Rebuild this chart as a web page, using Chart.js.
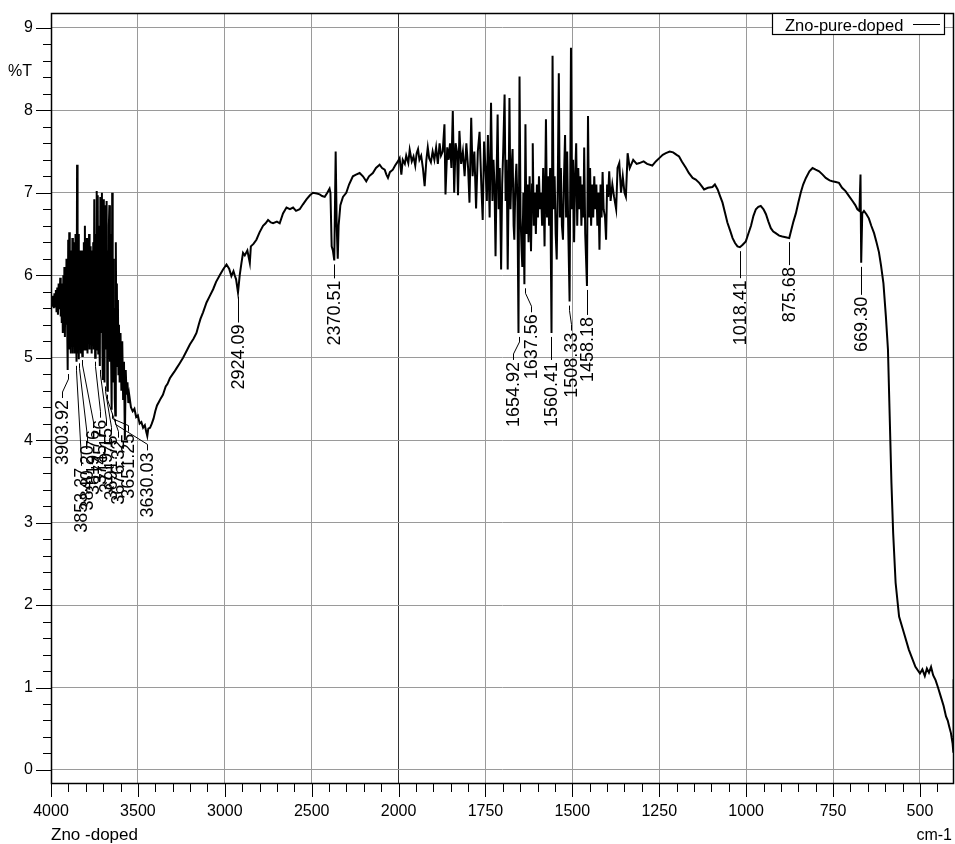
<!DOCTYPE html>
<html>
<head>
<meta charset="utf-8">
<script src="https://cdn.jsdelivr.net/npm/chart.js@4.4.1/dist/chart.umd.min.js"></script>
<style>
    html, body { margin: 0; padding: 0; background: #fff; }
</style>
</head>
<body>
<canvas id="myChart" width="955" height="844"></canvas>
<script>
// spectrum (cm-1, %T)
const wavenumbers = [
    4000, 3996, 3992, 3988, 3984, 3980, 3976, 3972, 3968, 3964,
    3960, 3956, 3953, 3950, 3947, 3944, 3941, 3938, 3935, 3932,
    3929, 3926, 3923, 3920, 3917, 3914, 3911, 3908, 3904, 3901,
    3898, 3895, 3892, 3889, 3886, 3883, 3880, 3877, 3874, 3871,
    3868, 3865, 3862, 3859, 3856, 3853, 3850, 3847, 3843, 3840,
    3837, 3834, 3831, 3828, 3825, 3822, 3820, 3817, 3814, 3811,
    3808, 3805, 3802, 3799, 3796, 3793, 3790, 3787, 3784, 3781,
    3778, 3775, 3772, 3769, 3766, 3763, 3760, 3757, 3754, 3751,
    3746, 3743, 3740, 3737, 3734, 3731, 3728, 3725, 3722, 3719,
    3716, 3713, 3710, 3707, 3704, 3702, 3699, 3696, 3692, 3689,
    3686, 3683, 3680, 3676, 3673, 3670, 3667, 3664, 3661, 3658,
    3655, 3651, 3648, 3645, 3642, 3639, 3636, 3633, 3630, 3627,
    3624, 3621, 3618, 3615, 3612, 3609, 3605, 3600, 3595, 3590,
    3585, 3580, 3575, 3570, 3565, 3560, 3555, 3550, 3540, 3530,
    3520, 3510, 3500, 3490, 3480, 3470, 3460, 3452, 3446, 3440,
    3430, 3420, 3410, 3400, 3390, 3380, 3370, 3356, 3340, 3330,
    3316, 3300, 3290, 3278, 3260, 3240, 3220, 3201, 3180, 3163,
    3150, 3140, 3125, 3105, 3086, 3067, 3050, 3029, 3010, 2990,
    2975, 2962, 2950, 2943, 2935, 2924, 2914, 2904, 2895, 2885,
    2870, 2856, 2850, 2835, 2818, 2800, 2780, 2765, 2751, 2735,
    2722, 2700, 2684, 2665, 2645, 2625, 2607, 2590, 2569, 2550,
    2530, 2510, 2493, 2470, 2454, 2440, 2425, 2410, 2397, 2392,
    2385, 2378, 2370, 2362, 2356, 2350, 2345, 2335, 2320, 2301,
    2285, 2263, 2245, 2224, 2205, 2186, 2170, 2148, 2130, 2109,
    2095, 2080, 2070, 2061, 2050, 2033, 2020, 2004, 1997, 1992,
    1988, 1982, 1978, 1972, 1968, 1962, 1957, 1952, 1948, 1944,
    1940, 1935, 1930, 1925, 1920, 1916, 1912, 1907, 1902, 1897,
    1892, 1887, 1882, 1878, 1873, 1868, 1865, 1860, 1856, 1852,
    1848, 1844, 1840, 1836, 1832, 1829, 1825, 1820, 1815, 1810,
    1805, 1800, 1796, 1791, 1787, 1782, 1777, 1772, 1767, 1762,
    1758, 1754, 1750, 1746, 1743, 1738, 1734,
    1730, 1727, 1724, 1721, 1718, 1715, 1712, 1709, 1705, 1702,
    1699, 1695, 1692, 1689, 1686, 1683, 1681, 1678, 1675, 1672,
    1669, 1667, 1664, 1661, 1658, 1655, 1652, 1649, 1646, 1644,
    1641, 1638, 1635, 1632, 1629, 1626, 1623, 1619, 1616, 1614,
    1611, 1608, 1605, 1602, 1599, 1596, 1593, 1590, 1587, 1584,
    1580, 1576, 1573, 1570, 1567, 1564, 1560, 1557, 1554, 1551,
    1548, 1545, 1542, 1539, 1536, 1533, 1530, 1527, 1524, 1521,
    1518, 1515, 1512, 1508, 1504, 1501, 1498, 1495, 1492, 1489,
    1486, 1483, 1480, 1477, 1474, 1471, 1468, 1466, 1463, 1458,
    1455, 1452, 1449, 1446, 1443, 1440, 1437, 1434, 1431, 1428,
    1425, 1422, 1419, 1416, 1413, 1410, 1406, 1403, 1400, 1397,
    1394, 1390, 1385, 1380, 1374, 1370, 1365, 1360, 1355, 1350,
    1346, 1341, 1335, 1325, 1315, 1307, 1295, 1285, 1270, 1260,
    1250, 1240, 1231, 1220, 1210, 1200, 1193, 1185, 1173, 1165,
    1154, 1145, 1135, 1128, 1121, 1110, 1097, 1090, 1082, 1075,
    1068, 1061, 1054, 1046, 1039, 1032, 1025, 1018, 1010, 1001,
    994, 986, 979, 972, 965, 958, 950, 943, 936, 929,
    922, 915, 905, 896, 886, 876, 870, 864, 857, 850,
    843, 836, 828, 818, 809, 800, 790, 780, 771, 760,
    752, 742, 733, 724, 714, 704, 694, 686, 680, 674,
    671, 669, 666, 661, 654, 647, 640, 632, 625, 618,
    612, 605, 598, 592, 587, 582, 577, 570, 560, 546,
    532, 513, 500, 493, 486, 480, 474, 468, 462, 455,
    448, 440, 432, 425, 420, 416, 411, 406, 404, 403, 402
];

const transmittance = [
    5.66, 5.72, 5.62, 5.75, 5.60, 5.78, 5.62, 5.82, 5.55, 5.85,
    5.52, 5.90, 5.60, 5.70, 5.97, 5.50, 5.85, 5.42, 5.90, 5.30,
    6.00, 5.33, 6.10, 5.25, 6.05, 5.40, 6.20, 5.60, 4.85, 6.43,
    5.20, 6.52, 5.10, 6.30, 5.05, 6.25, 5.20, 6.45, 5.05, 6.30,
    5.15, 6.40, 5.05, 6.50, 5.30, 4.95, 7.34, 5.05, 6.50, 4.98,
    6.30, 5.10, 6.20, 5.05, 6.30, 5.15, 5.02, 6.25, 5.10, 6.40,
    5.20, 6.60, 5.10, 6.20, 5.30, 6.45, 5.05, 6.35, 5.20, 6.50,
    5.10, 6.35, 5.25, 6.15, 5.05, 6.30, 5.15, 6.40, 5.10, 6.92,
    5.00, 6.50, 5.20, 7.02, 5.10, 6.97, 5.05, 6.60, 5.20, 4.90,
    6.95, 5.30, 6.50, 7.00, 5.10, 4.73, 6.92, 5.20, 4.70, 6.85,
    5.10, 6.40, 6.90, 4.60, 6.30, 5.00, 6.60, 6.85, 4.95, 6.50,
    5.20, 4.37, 7.00, 5.10, 6.20, 4.70, 5.60, 4.50, 4.30, 6.40,
    5.20, 5.90, 4.90, 5.70, 4.80, 5.40, 4.70, 5.30, 4.60, 5.20,
    4.50, 4.95, 4.00, 4.85, 4.55, 4.70, 4.45, 4.55, 4.40, 4.35,
    4.38, 4.28, 4.30, 4.20, 4.22, 4.15, 4.18, 4.10, 4.05, 4.14,
    4.15, 4.20, 4.26, 4.35, 4.42, 4.46, 4.50, 4.55, 4.65, 4.68,
    4.75, 4.80, 4.83, 4.87, 4.93, 5.00, 5.08, 5.16, 5.23, 5.30,
    5.40, 5.47, 5.55, 5.67, 5.75, 5.83, 5.92, 6.00, 6.07, 6.13,
    6.08, 5.99, 6.05, 6.00, 5.95, 5.79, 6.00, 6.15, 6.27, 6.24,
    6.30, 6.15, 6.35, 6.38, 6.43, 6.52, 6.60, 6.63, 6.67, 6.64,
    6.63, 6.65, 6.63, 6.75, 6.82, 6.80, 6.82, 6.78, 6.80, 6.86,
    6.92, 6.97, 7.00, 6.99, 6.98, 6.96, 6.95, 7.00, 7.05, 7.00,
    6.35, 6.30, 6.18, 7.50, 6.60, 6.20, 6.60, 6.85, 6.95, 7.00,
    7.10, 7.20, 7.22, 7.24, 7.20, 7.14, 7.20, 7.24, 7.30, 7.34,
    7.30, 7.28, 7.22, 7.18, 7.25, 7.28, 7.33, 7.38, 7.42, 7.22,
    7.40, 7.35, 7.45, 7.36, 7.52, 7.38, 7.44, 7.33, 7.48, 7.53,
    7.40, 7.45, 7.30, 7.08, 7.40, 7.55, 7.42, 7.37, 7.50, 7.40,
    7.55, 7.35, 7.60, 7.45, 7.50, 7.83, 6.98, 7.55, 7.40, 7.60,
    7.30, 7.99, 7.00, 7.60, 7.50, 6.97, 7.75, 7.35, 7.50, 7.20,
    7.60, 7.30, 6.88, 7.91, 7.20, 7.50, 6.81, 7.50, 7.74, 7.10,
    6.67, 7.62, 7.30, 6.90, 7.70, 6.70, 8.09,
    6.90, 7.40, 7.10, 6.23, 7.20, 7.95, 6.80, 7.30, 6.07, 7.10,
    7.50, 8.19, 6.90, 7.40, 6.07, 7.20, 8.15, 6.80, 7.30, 7.53,
    6.60, 6.43, 7.10, 7.35, 6.90, 5.30, 8.41, 6.70, 6.30, 6.10,
    7.00, 5.89, 7.83, 6.50, 7.10, 6.40, 7.20, 6.29, 7.10, 7.60,
    6.60, 7.00, 6.50, 7.10, 6.70, 7.20, 6.80, 7.00, 6.60, 7.30,
    6.35, 7.89, 6.70, 7.20, 6.60, 7.30, 5.30, 8.66, 6.80, 7.20,
    6.50, 6.19, 7.10, 8.45, 6.70, 7.30, 6.60, 6.43, 7.20, 7.70,
    6.70, 7.50, 6.60, 5.68, 8.76, 6.80, 7.40, 6.40, 7.20, 7.60,
    6.60, 7.30, 6.80, 7.20, 6.60, 7.10, 6.70, 7.55, 6.50, 5.87,
    7.93, 6.70, 7.30, 6.60, 7.10, 6.70, 7.20, 6.80, 7.10, 6.60,
    7.00, 6.31, 7.10, 6.70, 7.25, 6.80, 6.70, 6.43, 7.10, 6.95,
    7.26, 6.90, 7.10, 6.95, 6.80, 7.30, 7.36, 7.00, 7.20, 7.00,
    6.95, 7.48, 7.30, 7.40, 7.35, 7.36, 7.38, 7.35, 7.33, 7.38,
    7.42, 7.46, 7.48, 7.50, 7.49, 7.46, 7.44, 7.38, 7.30, 7.24,
    7.18, 7.16, 7.12, 7.08, 7.04, 7.06, 7.07, 7.10, 7.04, 6.96,
    6.88, 6.76, 6.64, 6.54, 6.45, 6.39, 6.35, 6.34, 6.37, 6.41,
    6.50, 6.60, 6.72, 6.80, 6.83, 6.84, 6.80, 6.74, 6.65, 6.57,
    6.53, 6.51, 6.48, 6.47, 6.46, 6.45, 6.55, 6.65, 6.75, 6.88,
    7.00, 7.10, 7.18, 7.26, 7.30, 7.28, 7.26, 7.22, 7.18, 7.15,
    7.14, 7.13, 7.12, 7.06, 7.02, 6.96, 6.90, 6.85, 6.80, 6.78,
    7.22, 6.15, 6.75, 6.78, 6.74, 6.69, 6.60, 6.51, 6.40, 6.28,
    6.12, 5.90, 5.50, 5.10, 4.29, 3.48, 2.87, 2.27, 1.86, 1.66,
    1.46, 1.25, 1.17, 1.22, 1.14, 1.23, 1.18, 1.25, 1.15, 1.09,
    1.00, 0.89, 0.78, 0.65, 0.60, 0.53, 0.45, 0.32, 0.22, 1.10, 0.20
];

const xTickLabels = ['4000', '3500', '3000', '2500', '2000', '1750', '1500', '1250', '1000', '750', '500'];
const yTickLabels = ['0', '1', '2', '3', '4', '5', '6', '7', '8', '9'];

const peakWavenumbers = [3903.92, 3853.37, 3840.20, 3819.76, 3745.76, 3719.15, 3691.75, 3676.32, 3651.25, 3630.03,
    2924.09, 2370.51, 1654.92, 1637.56, 1560.41, 1508.33, 1458.18, 1018.41, 875.68, 669.30];

const seriesName = 'Zno-pure-doped';
const sampleName = 'Zno -doped';

// label layout (px): horizontal shift of the text, drop from the dip to the text top
const labelShift = [-6, 5, 8, 11, 5, 6, 6, 11, 16, 32, 0, 0, -6, 6, 0, 2, 0, 0, 0, 0];
const labelDrop = [30, 106, 86, 74, 62, 62, 53, 49, 24, 37, 32, 20, 29, 30, 29, 31, 31, 33, 29, 34];

// 4000-2000 takes 500 cm-1 per unit, 2000-400 takes 250 cm-1 per unit
function toPos(w) {
    return w >= 2000 ? (4000 - w) / 500 : 4 + (2000 - w) / 250;
}

function isWhole(v) {
    return Math.abs(v - Math.round(v)) < 1e-6;
}

function dipAt(w) {
    let best = 0;
    wavenumbers.forEach((v, i) => {
        if (Math.abs(v - w) < Math.abs(wavenumbers[best] - w)) best = i;
    });
    return transmittance[best];
}

const points = wavenumbers.map((w, i) => ({ x: toPos(w), y: transmittance[i] }));

const tickFont = { family: "'Liberation Sans', Arial, sans-serif", size: 16 };

const frame = {
    id: 'frame',
    afterDraw(chart) {
        const { ctx, chartArea: a, scales: { x, y } } = chart;
        ctx.save();
        ctx.strokeStyle = '#000';
        ctx.lineWidth = 1;
        ctx.beginPath();
        x.ticks.forEach(t => {
            const px = Math.round(x.getPixelForValue(t.value)) + 0.5;
            ctx.moveTo(px, a.bottom);
            ctx.lineTo(px, a.bottom + (isWhole(t.value) ? 14 : 9));
        });
        y.ticks.forEach(t => {
            const py = Math.round(y.getPixelForValue(t.value)) + 0.5;
            ctx.moveTo(a.left, py);
            ctx.lineTo(a.left - (isWhole(t.value) ? 15 : 8), py);
        });
        ctx.stroke();
        ctx.lineWidth = 1.5;
        ctx.strokeRect(a.left + 0.5, a.top + 0.5, a.right - a.left - 1, a.bottom - a.top);

        // legend box
        ctx.fillStyle = '#fff';
        ctx.fillRect(772, a.top, 173, 21);
        ctx.lineWidth = 1.2;
        ctx.strokeRect(772.5, a.top + 0.5, 172, 21);
        ctx.fillStyle = '#000';
        ctx.font = "16.5px 'Liberation Sans', Arial, sans-serif";
        ctx.textAlign = 'left';
        ctx.textBaseline = 'alphabetic';
        ctx.fillText(seriesName, 785, 31);
        ctx.beginPath();
        ctx.lineWidth = 1;
        ctx.moveTo(913, 24.5);
        ctx.lineTo(940, 24.5);
        ctx.stroke();

        // axis titles
        ctx.font = "16px 'Liberation Sans', Arial, sans-serif";
        ctx.textAlign = 'right';
        ctx.textBaseline = 'middle';
        ctx.fillText('%T', 32, 72);
        ctx.font = "17px 'Liberation Sans', Arial, sans-serif";
        ctx.textAlign = 'left';
        ctx.textBaseline = 'alphabetic';
        ctx.fillText(sampleName, a.left, 840);
        ctx.font = "16px 'Liberation Sans', Arial, sans-serif";
        ctx.textAlign = 'right';
        ctx.fillText('cm-1', 952, 840);
        ctx.restore();
    }
};

const peakMarks = {
    id: 'peakMarks',
    afterDatasetsDraw(chart) {
        const { ctx, scales: { x, y } } = chart;
        ctx.save();
        ctx.strokeStyle = '#000';
        ctx.fillStyle = '#000';
        ctx.lineWidth = 1;
        ctx.font = "18px 'Liberation Sans', Arial, sans-serif";
        peakWavenumbers.forEach((w, i) => {
            const px = Math.round(x.getPixelForValue(toPos(w))) + 0.5;
            const py = y.getPixelForValue(dipAt(w));
            const tx = px + labelShift[i];
            const top = py + labelDrop[i];
            ctx.beginPath();
            ctx.moveTo(px, py + 4);
            if (labelShift[i] !== 0) {
                ctx.lineTo(px, py + 9);
                ctx.lineTo(tx, top - 8);
            }
            ctx.lineTo(tx, top - 2);
            ctx.stroke();
            ctx.save();
            ctx.translate(tx, top);
            ctx.rotate(-Math.PI / 2);
            ctx.textAlign = 'right';
            ctx.textBaseline = 'middle';
            ctx.fillText(w.toFixed(2), 0, 1);
            ctx.restore();
        });
        ctx.restore();
    }
};

const myChart = new Chart(document.getElementById('myChart').getContext('2d'), {
    type: 'line',
    data: {
        datasets: [{
            label: seriesName,
            data: points,
            borderColor: '#000',
            borderWidth: 2,
            pointRadius: 0,
            tension: 0,
            fill: false
        }]
    },
    options: {
        responsive: false,
        animation: false,
        devicePixelRatio: 1,
        layout: { padding: { top: 13, right: 1, left: 0, bottom: 0 } },
        plugins: {
            legend: { display: false },
            tooltip: { enabled: false }
        },
        scales: {
            x: {
                type: 'linear',
                min: 0,
                max: toPos(402),
                afterFit(scale) {
                    scale.height = 61;
                    scale.paddingLeft = 0;
                    scale.paddingRight = 0;
                },
                border: { display: false },
                grid: {
                    color: ctx => !isWhole(ctx.tick.value) ? 'rgba(0,0,0,0)' : (Math.round(ctx.tick.value) === 4 ? '#333' : '#9a9a9a'),
                    tickColor: 'rgba(0,0,0,0)',
                    tickLength: 14
                },
                ticks: {
                    stepSize: 0.2,
                    includeBounds: false,
                    autoSkip: false,
                    maxRotation: 0,
                    padding: 5,
                    color: '#000',
                    font: tickFont,
                    callback: v => isWhole(v) ? xTickLabels[Math.round(v)] : ''
                }
            },
            y: {
                type: 'linear',
                min: -0.158,
                max: 9.18,
                afterFit(scale) {
                    scale.width = 51;
                    scale.paddingTop = 0;
                    scale.paddingBottom = 0;
                },
                border: { display: false },
                grid: {
                    color: ctx => isWhole(ctx.tick.value) ? '#9a9a9a' : 'rgba(0,0,0,0)',
                    tickColor: 'rgba(0,0,0,0)',
                    tickLength: 15
                },
                ticks: {
                    stepSize: 0.2,
                    includeBounds: false,
                    autoSkip: false,
                    padding: 3,
                    color: '#000',
                    font: tickFont,
                    callback: v => isWhole(v) ? yTickLabels[Math.round(v)] : ''
                }
            }
        }
    },
    plugins: [frame, peakMarks]
});
</script>
</body>
</html>
